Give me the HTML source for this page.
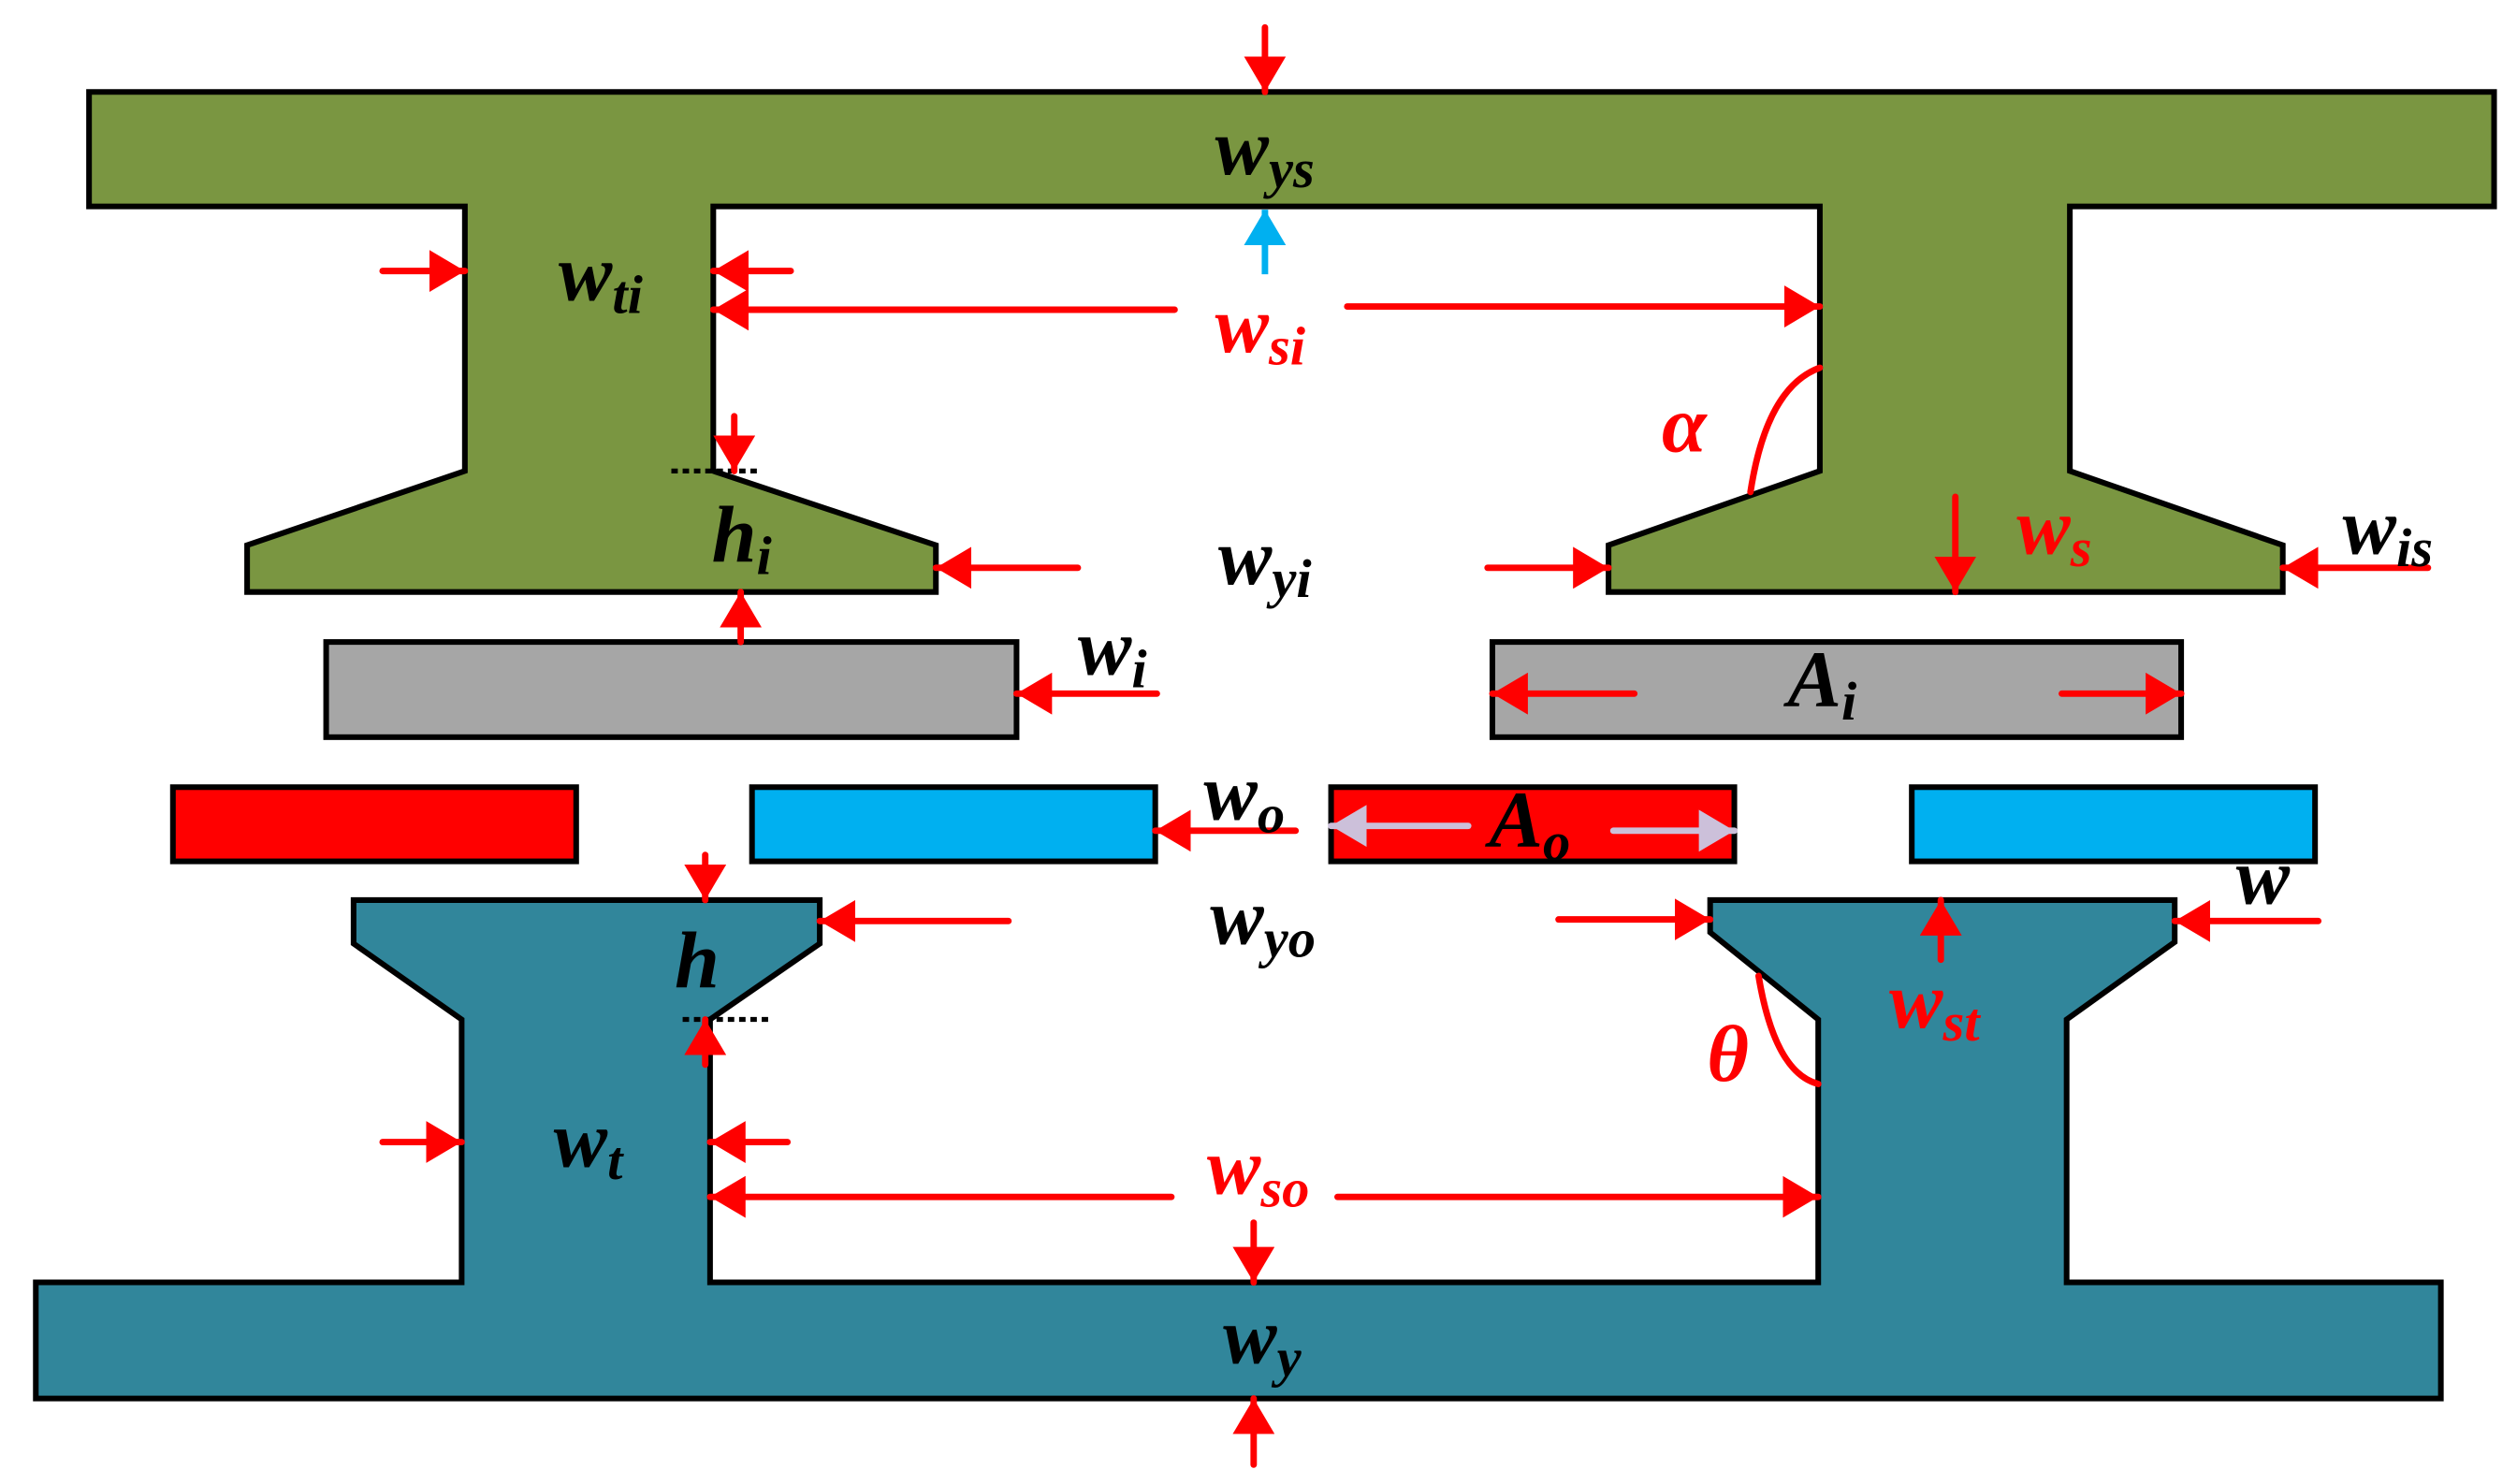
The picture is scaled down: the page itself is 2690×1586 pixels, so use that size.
<!DOCTYPE html>
<html><head><meta charset="utf-8"><style>
html,body{margin:0;padding:0;background:#fff}
svg{display:block}
text{font-family:"Times New Roman","Liberation Serif",serif;font-style:italic;font-weight:bold}
</style></head><body>
<svg width="2690" height="1586" viewBox="0 0 1560 920" xmlns="http://www.w3.org/2000/svg">
<defs>
<marker id="r" markerUnits="userSpaceOnUse" markerWidth="24" markerHeight="26" refX="22" refY="13" orient="auto"><path d="M0,0 L22,13 L0,26 z" fill="#ff0000"/></marker>
<marker id="c" markerUnits="userSpaceOnUse" markerWidth="24" markerHeight="26" refX="22" refY="13" orient="auto"><path d="M0,0 L22,13 L0,26 z" fill="#00b0f0"/></marker>
<marker id="g" markerUnits="userSpaceOnUse" markerWidth="24" markerHeight="26" refX="22" refY="13" orient="auto"><path d="M0,0 L22,13 L0,26 z" fill="#ccc0da"/></marker>
</defs>
<g stroke="#000" stroke-width="3.5" stroke-linejoin="miter">
<polygon fill="#7a9641" points="55,57 1546,57 1546,128 1283,128 1283,292 1415,338 1415,367 997,367 997,338 1128,292 1128,128 442,128 442,292 580,338 580,367 153,367 153,338 288,292 288,128 55,128"/>
<polygon fill="#31869b" points="22,795 286,795 286,632 219,585 219,558 508,558 508,585 440,632 440,795 1127,795 1127,632 1060,578 1060,558 1348,558 1348,584 1281,632 1281,795 1513,795 1513,867 22,867"/>
<rect x="202" y="398" width="428" height="59" fill="#a6a6a6"/>
<rect x="925" y="398" width="427" height="59" fill="#a6a6a6"/>
<rect x="107" y="488" width="250" height="46" fill="#ff0000"/>
<rect x="466" y="488" width="250" height="46" fill="#00b0f0"/>
<rect x="825" y="488" width="250" height="46" fill="#ff0000"/>
<rect x="1185" y="488" width="250" height="46" fill="#00b0f0"/>
</g>
<g stroke="#000" stroke-width="3" stroke-dasharray="4,3">
<line x1="416" y1="292" x2="472" y2="292"/>
<line x1="423" y1="632" x2="479" y2="632"/>
</g>
<g stroke="#ff0000" stroke-width="4" fill="none" stroke-linecap="round">
<line x1="784" y1="17" x2="784" y2="57" marker-end="url(#r)"/>
<line x1="237" y1="168" x2="288" y2="168" marker-end="url(#r)"/>
<line x1="490" y1="168" x2="442" y2="168" marker-end="url(#r)"/>
<line x1="728" y1="192" x2="442" y2="192" marker-end="url(#r)"/>
<line x1="835" y1="190" x2="1128" y2="190" marker-end="url(#r)"/>
<line x1="455" y1="258" x2="455" y2="292" marker-end="url(#r)"/>
<line x1="459" y1="398" x2="459" y2="367" marker-end="url(#r)"/>
<line x1="668" y1="352" x2="580" y2="352" marker-end="url(#r)"/>
<line x1="922" y1="352" x2="997" y2="352" marker-end="url(#r)"/>
<line x1="1212" y1="308" x2="1212" y2="367" marker-end="url(#r)"/>
<line x1="1505" y1="352" x2="1415" y2="352" marker-end="url(#r)"/>
<line x1="717" y1="430" x2="630" y2="430" marker-end="url(#r)"/>
<line x1="1013" y1="430" x2="925" y2="430" marker-end="url(#r)"/>
<line x1="1278" y1="430" x2="1352" y2="430" marker-end="url(#r)"/>
<line x1="803" y1="515" x2="716" y2="515" marker-end="url(#r)"/>
<line x1="1437" y1="571" x2="1348" y2="571" marker-end="url(#r)"/>
<line x1="1203" y1="595" x2="1203" y2="558" marker-end="url(#r)"/>
<line x1="625" y1="571" x2="508" y2="571" marker-end="url(#r)"/>
<line x1="966" y1="570" x2="1060" y2="570" marker-end="url(#r)"/>
<line x1="437" y1="530" x2="437" y2="558" marker-end="url(#r)"/>
<line x1="437" y1="660" x2="437" y2="632" marker-end="url(#r)"/>
<line x1="237" y1="708" x2="286" y2="708" marker-end="url(#r)"/>
<line x1="488" y1="708" x2="440" y2="708" marker-end="url(#r)"/>
<line x1="726" y1="742" x2="440" y2="742" marker-end="url(#r)"/>
<line x1="829" y1="742" x2="1127" y2="742" marker-end="url(#r)"/>
<line x1="777" y1="758" x2="777" y2="795" marker-end="url(#r)"/>
<line x1="777" y1="908" x2="777" y2="867" marker-end="url(#r)"/>
<path d="M1090,605 Q1100,665 1127,672" stroke-width="4"/>
<path d="M1128,228 Q1095,240 1085,305" stroke-width="4"/>
</g>
<line x1="784" y1="170" x2="784" y2="130" stroke="#00b0f0" stroke-width="4" marker-end="url(#c)"/>
<g stroke="#ccc0da" stroke-width="4" stroke-linecap="round">
<line x1="910" y1="512" x2="825" y2="512" marker-end="url(#g)"/>
<line x1="1000" y1="515" x2="1075" y2="515" marker-end="url(#g)"/>
</g>
<g font-size="50" fill="#000">
<text x="753" y="108">w<tspan font-size="34" dy="8">ys</tspan></text>
<text x="346" y="186">w<tspan font-size="34" dy="8">ti</tspan></text>
<text x="441" y="348">h<tspan font-size="34" dy="8">i</tspan></text>
<text x="755" y="362">w<tspan font-size="34" dy="8">yi</tspan></text>
<text x="1452" y="343">w<tspan font-size="34" dy="8">is</tspan></text>
<text x="668" y="418">w<tspan font-size="34" dy="8">i</tspan></text>
<text x="1108" y="438">A<tspan font-size="34" dy="8">i</tspan></text>
<text x="746" y="508">w<tspan font-size="34" dy="8">o</tspan></text>
<text x="923" y="525">A<tspan font-size="34" dy="8">o</tspan></text>
<text x="1386" y="560">w</text>
<text x="750" y="585">w<tspan font-size="34" dy="8">yo</tspan></text>
<text x="418" y="612">h</text>
<text x="343" y="723">w<tspan font-size="34" dy="8">t</tspan></text>
<text x="758" y="845">w<tspan font-size="34" dy="8">y</tspan></text>
</g>
<g font-size="50" fill="#ff0000">
<text x="753" y="218">w<tspan font-size="34" dy="8">si</tspan></text>
<text x="1030" y="280">α</text>
<text x="1250" y="343">w<tspan font-size="34" dy="8">s</tspan></text>
<text x="1171" y="637">w<tspan font-size="34" dy="8">st</tspan></text>
<text x="1058" y="670">θ</text>
<text x="748" y="740">w<tspan font-size="34" dy="8">so</tspan></text>
</g>
</svg>
</body></html>
